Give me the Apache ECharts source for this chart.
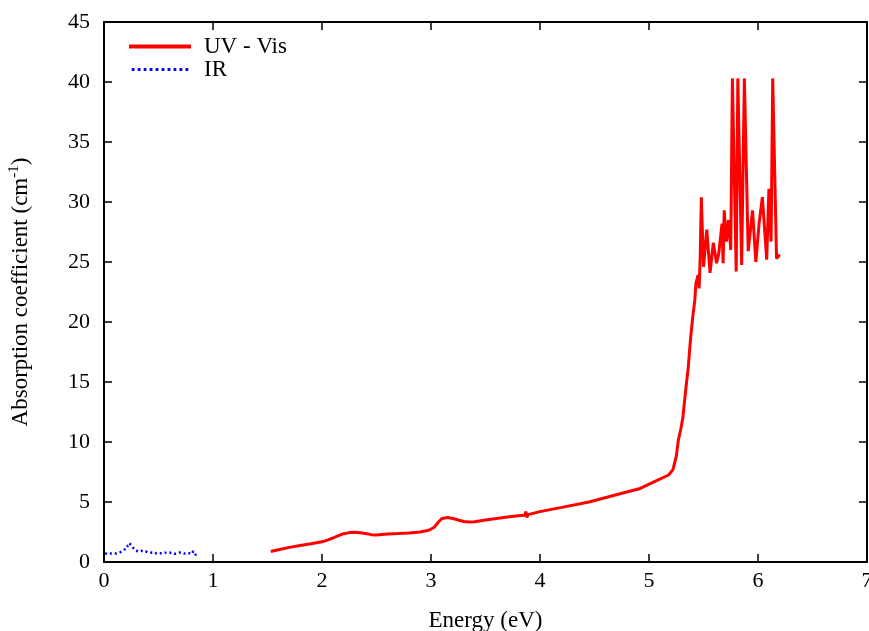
<!DOCTYPE html>
<html>
<head>
<meta charset="utf-8">
<script src="https://cdn.jsdelivr.net/npm/echarts@6/dist/echarts.min.js"></script>
<style>html,body{margin:0;padding:0;background:#fff;}#c{width:869px;height:631px;}</style>
</head>
<body>
<div id="c"></div>
<script>
const xTicks = [0, 1, 2, 3, 4, 5, 6, 7];
const yTicks = [0, 5, 10, 15, 20, 25, 30, 35, 40, 45];

const uvEnergy = [1.53,1.6,1.7,1.8,1.9,2.0,2.05,2.1,2.15,2.2,2.25,2.3,2.35,2.4,2.45,2.5,2.55,2.6,2.7,2.8,2.9,2.98,3.03,3.07,3.1,3.15,3.2,3.25,3.3,3.35,3.4,3.5,3.6,3.7,3.8,3.86,3.87,3.88,3.89,4.0,4.2,4.45,4.7,4.91,5.05,5.18,5.22,5.25,5.27,5.29,5.31,5.34,5.36,5.38,5.4,5.42,5.43,5.45,5.46,5.47,5.48,5.49,5.5,5.53,5.56,5.59,5.62,5.64,5.67,5.68,5.69,5.71,5.73,5.75,5.765,5.775,5.8,5.815,5.825,5.85,5.875,5.885,5.91,5.95,5.98,6.01,6.04,6.08,6.1,6.12,6.135,6.145,6.17,6.2];
const uvAbs = [0.88,1.02,1.22,1.38,1.52,1.68,1.82,2.0,2.2,2.36,2.45,2.47,2.43,2.37,2.28,2.25,2.3,2.34,2.37,2.42,2.5,2.65,2.9,3.35,3.62,3.7,3.63,3.5,3.38,3.33,3.36,3.5,3.62,3.75,3.85,3.9,4.2,3.7,3.95,4.2,4.55,5.0,5.6,6.1,6.7,7.25,7.7,8.8,10.2,11.0,12.0,14.6,16.2,18.5,20.3,21.8,23.2,23.9,22.8,25.5,30.4,30.4,24.6,27.7,24.1,26.6,24.9,25.7,28.2,24.9,29.3,26.7,28.5,26.0,40.3,40.3,24.2,40.3,40.3,24.75,40.3,40.3,25.9,29.3,25.0,28.2,30.4,25.2,31.1,26.7,40.3,40.3,25.3,25.6];

const irEnergy = [0.01,0.03,0.05,0.07,0.09,0.11,0.13,0.15,0.17,0.19,0.2,0.21,0.22,0.23,0.24,0.25,0.26,0.27,0.28,0.29,0.3,0.32,0.34,0.36,0.38,0.4,0.42,0.44,0.46,0.48,0.5,0.53,0.56,0.59,0.62,0.65,0.68,0.71,0.74,0.77,0.8,0.82,0.84,0.86];
const irAbs = [0.72,0.68,0.75,0.7,0.74,0.71,0.78,0.82,0.9,1.05,1.3,1.45,1.35,1.58,1.5,1.4,1.28,1.15,1.0,0.95,1.05,0.88,0.95,0.86,0.9,0.82,0.85,0.76,0.8,0.72,0.76,0.7,0.78,0.72,0.8,0.68,0.76,0.82,0.7,0.78,0.65,0.9,0.6,0.8];

const uvData = uvEnergy.map((e, i) => [e, uvAbs[i]]);
const irData = irEnergy.map((e, i) => [e, irAbs[i]]);

const font = 'Liberation Serif';
const axisCommon = {
  type: 'value',
  min: 0,
  axisLine: { show: true, onZero: false, lineStyle: { color: '#000', width: 2 } },
  axisTick: { show: true, inside: true, length: 8, lineStyle: { color: '#000', width: 1.5 } },
  splitLine: { show: false }
};

// dotted legend icon for IR
let dots = '';
for (let i = 0; i < 10; i++) { const x = i * 6.4; dots += `M${x},6 L${x + 3},6 L${x + 3},9 L${x},9 Z `; }

const chart = echarts.init(document.getElementById('c'), null, { renderer: 'canvas' });
chart.setOption({
  animation: false,
  backgroundColor: '#fff',
  grid: { left: 104, right: 2, top: 22, bottom: 69, containLabel: false, outerBoundsMode: 'none' },
  legend: {
    left: 124, top: 30, orient: 'vertical', itemWidth: 62, itemHeight: 14, itemGap: 0,
    textStyle: { fontFamily: font, fontSize: 23, lineHeight: 23, color: '#000', padding: [0, 0, 0, 8] },
    data: [
      { name: 'UV - Vis', icon: 'path://M0,6 L62,6 L62,10 L0,10 Z' },
      { name: 'IR', icon: 'path://' + dots + 'M0,0 L0.01,0 L0.01,15 L0,15 Z' }
    ]
  },
  xAxis: [
    Object.assign({}, axisCommon, {
      max: 7, interval: 1, position: 'bottom',
      axisLabel: { fontFamily: font, fontSize: 22, color: '#000', margin: 8,
        formatter: v => xTicks.includes(v) ? String(v) : '' },
      name: 'Energy (eV)', nameLocation: 'middle', nameGap: 47,
      nameTextStyle: { fontFamily: font, fontSize: 23, color: '#000' }
    }),
    Object.assign({}, axisCommon, { max: 7, interval: 1, position: 'top', axisLabel: { show: false } })
  ],
  yAxis: [
    Object.assign({}, axisCommon, {
      max: 45, interval: 5, position: 'left',
      axisLabel: { fontFamily: font, fontSize: 22, color: '#000', margin: 14,
        formatter: v => yTicks.includes(v) ? String(v) : '' },
      name: '{a|Absorption coefficient (cm}{s|-1}{a|)}', nameLocation: 'middle', nameGap: 70,
      nameTextStyle: { rich: {
        a: { fontFamily: font, fontSize: 23, color: '#000' },
        s: { fontFamily: font, fontSize: 15, color: '#000', verticalAlign: 'top', padding: [0, 0, 12, 0] }
      } }
    }),
    Object.assign({}, axisCommon, { max: 45, interval: 5, position: 'right', axisLabel: { show: false } })
  ],
  series: [
    { name: 'UV - Vis', type: 'line', data: uvData, showSymbol: false, symbol: 'none',
      lineStyle: { color: '#ff0000', width: 3 }, itemStyle: { color: '#ff0000' }, z: 3 },
    { name: 'IR', type: 'line', data: irData, showSymbol: false, symbol: 'none',
      lineStyle: { color: '#0000ff', width: 2.5, type: [2, 3] }, itemStyle: { color: '#0000ff' }, z: 2 }
  ]
});
</script>
</body>
</html>
